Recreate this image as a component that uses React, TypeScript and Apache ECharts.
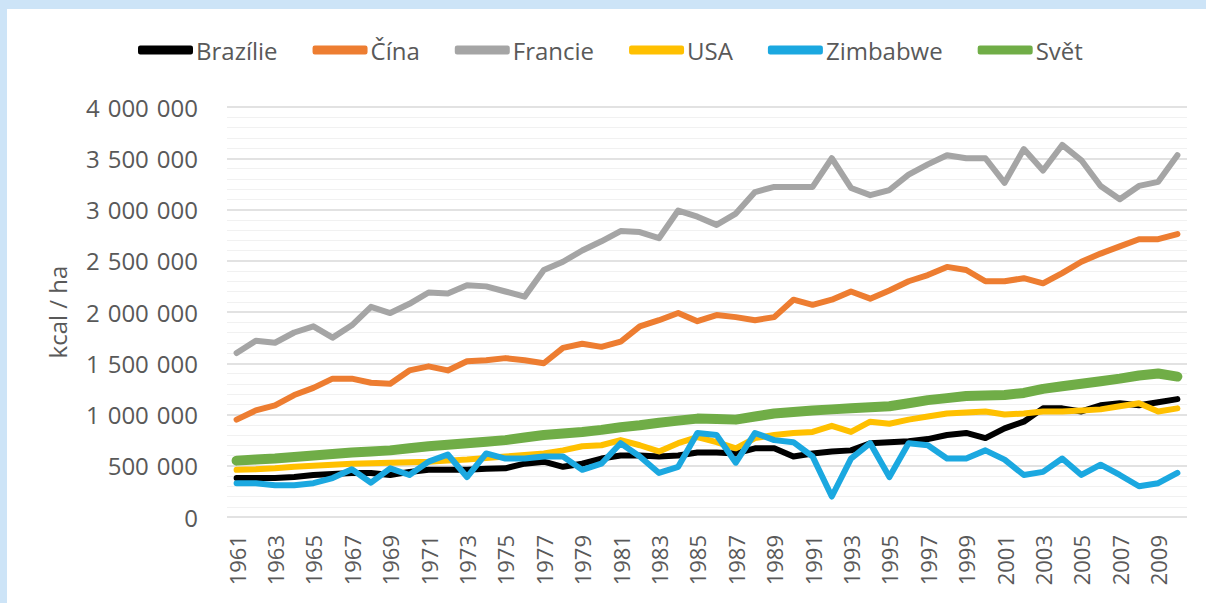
import React, { useEffect, useRef } from "react";
import * as echarts from "echarts";

const years: string[] = [];
for (let y = 1961; y <= 2010; y++) years.push(String(y));

const brazilie = [
  380000, 380000, 380000, 390000, 410000, 420000, 430000, 430000, 410000, 440000,
  460000, 460000, 460000, 470000, 475000, 520000, 540000, 490000, 520000, 570000,
  600000, 600000, 590000, 600000, 630000, 630000, 620000, 670000, 670000, 590000,
  620000, 640000, 650000, 720000, 730000, 740000, 760000, 800000, 820000, 770000,
  865000, 930000, 1060000, 1060000, 1030000, 1090000, 1110000, 1090000, 1120000, 1150000,
];
const cina = [
  950000, 1040000, 1090000, 1190000, 1260000, 1350000, 1350000, 1310000, 1300000, 1430000,
  1470000, 1430000, 1520000, 1530000, 1550000, 1530000, 1500000, 1650000, 1690000, 1660000,
  1710000, 1860000, 1920000, 1990000, 1910000, 1970000, 1950000, 1920000, 1950000, 2120000,
  2070000, 2120000, 2200000, 2130000, 2210000, 2300000, 2360000, 2440000, 2410000, 2300000,
  2300000, 2330000, 2280000, 2380000, 2490000, 2570000, 2640000, 2710000, 2710000, 2760000,
];
const francie = [
  1600000, 1720000, 1700000, 1800000, 1860000, 1750000, 1870000, 2050000, 1990000, 2080000,
  2190000, 2180000, 2260000, 2250000, 2200000, 2150000, 2410000, 2490000, 2600000, 2690000,
  2790000, 2780000, 2720000, 2990000, 2930000, 2850000, 2960000, 3170000, 3220000, 3220000,
  3220000, 3500000, 3210000, 3140000, 3190000, 3340000, 3440000, 3530000, 3500000, 3500000,
  3260000, 3590000, 3380000, 3630000, 3480000, 3230000, 3100000, 3230000, 3270000, 3530000,
];
const usa = [
  460000, 465000, 475000, 490000, 500000, 510000, 520000, 525000, 530000, 535000,
  540000, 550000, 560000, 575000, 590000, 605000, 620000, 650000, 690000, 700000,
  750000, 700000, 640000, 720000, 780000, 730000, 670000, 770000, 800000, 820000,
  830000, 890000, 830000, 930000, 910000, 950000, 980000, 1010000, 1020000, 1030000,
  1000000, 1010000, 1030000, 1030000, 1040000, 1050000, 1080000, 1110000, 1030000, 1060000,
];
const zimbabwe = [
  330000, 330000, 310000, 310000, 330000, 380000, 465000, 335000, 475000, 410000,
  540000, 610000, 390000, 620000, 570000, 570000, 590000, 590000, 460000, 520000,
  720000, 590000, 430000, 490000, 820000, 800000, 530000, 820000, 750000, 730000,
  590000, 200000, 570000, 720000, 390000, 720000, 700000, 570000, 570000, 650000,
  560000, 410000, 440000, 570000, 410000, 510000, 410000, 300000, 330000, 430000,
];
const svet = [
  550000, 560000, 570000, 585000, 600000, 615000, 630000, 640000, 650000, 670000,
  690000, 705000, 720000, 735000, 750000, 775000, 800000, 815000, 830000, 850000,
  875000, 895000, 920000, 940000, 960000, 955000, 950000, 980000, 1010000, 1025000,
  1040000, 1050000, 1060000, 1070000, 1080000, 1110000, 1140000, 1160000, 1180000, 1185000,
  1190000, 1210000, 1250000, 1275000, 1300000, 1325000, 1350000, 1380000, 1400000, 1370000,
];

const seriesNames = ["Brazílie", "Čína", "Francie", "USA", "Zimbabwe", "Svět"];
const seriesData = [brazilie, cina, francie, usa, zimbabwe, svet];
const colors = ["#000000", "#ED7D31", "#A5A5A5", "#FFC000", "#1BA8E0", "#70AD47"];
const widths = [6, 6, 6, 6, 6, 10];

const fmt = (v: number) =>
  String(Math.round(v)).replace(/\B(?=(\d{3})+(?!\d))/g, "\u2004");

export default function App() {
  const ref = useRef<HTMLDivElement>(null);
  useEffect(() => {
    if (!ref.current) return;
    const chart = echarts.init(ref.current, undefined, { renderer: "svg" });
    const font = "'Open Sans', 'Noto Sans', sans-serif";
    chart.setOption({
      animation: false,
      backgroundColor: "#ffffff",
      textStyle: { fontFamily: font, color: "#595959" },
      color: colors,
      legend: {
        top: 24,
        left: 126,
        itemWidth: 55,
        itemHeight: 9,
        itemGap: 35,
        icon: "roundRect",
        textStyle: { fontSize: 24, color: "#595959", fontFamily: font, padding: [0, 0, 0, -2] },
        data: seriesNames,
      },
      grid: { left: 220, right: 19, top: 98, bottom: 86, containLabel: false },
      xAxis: {
        type: "category",
        data: years,
        boundaryGap: true,
        axisLine: { show: false },
        axisTick: { show: false },
        axisLabel: {
          interval: 1,
          rotate: 90,
          fontSize: 22,
          color: "#595959",
          margin: 18,
          fontFamily: font,
        },
      },
      yAxis: {
        type: "value",
        min: 0,
        max: 4000000,
        interval: 500000,
        name: "kcal / ha",
        nameLocation: "middle",
        nameGap: 158,
        nameTextStyle: { fontSize: 24, color: "#595959", fontFamily: font },
        axisLine: { show: false },
        axisTick: { show: false },
        axisLabel: {
          fontSize: 24,
          color: "#595959",
          margin: 29,
          fontFamily: font,
          formatter: (v: number) => fmt(v),
        },
        splitLine: { lineStyle: { color: "#d9d9d9", width: 1.5 } },
        minorTick: { show: false, splitNumber: 5 },
        minorSplitLine: { show: true, lineStyle: { color: "#f1f1f1", width: 1 } },
      },
      series: seriesNames.map((n, i) => ({
        name: n,
        type: "line",
        data: seriesData[i],
        symbol: "none",
        lineStyle: { width: widths[i], color: colors[i], cap: "round", join: "round" },
        itemStyle: { color: colors[i] },
      })),
    });
    return () => chart.dispose();
  }, []);
  return (
    <div
      style={{
        position: "fixed",
        left: 0,
        top: 0,
        width: 1206,
        height: 603,
        background: "#cde4f7",
      }}
    >
      <div
        ref={ref}
        style={{ position: "absolute", left: 7, top: 9, width: 1199, height: 594 }}
      />
    </div>
  );
}
